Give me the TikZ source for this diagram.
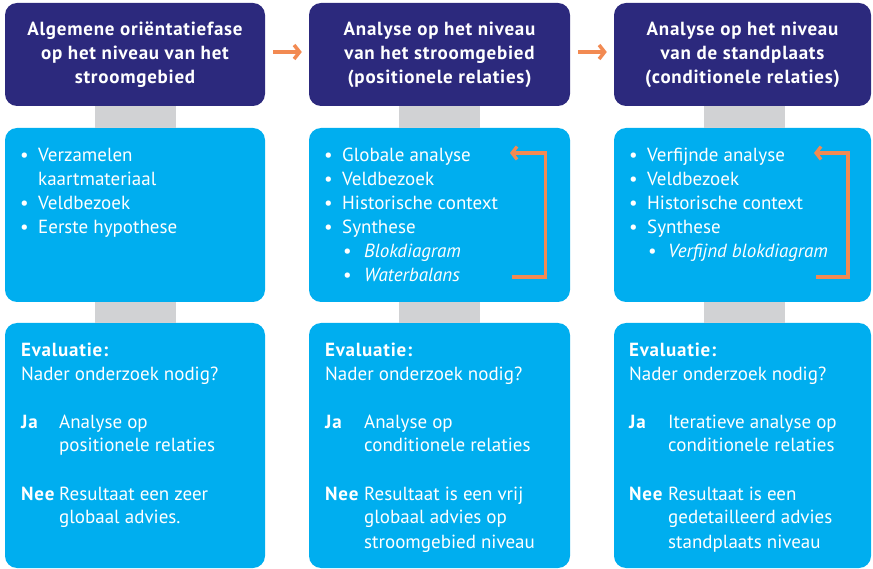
\documentclass[tikz,border=0pt]{standalone}
\usepackage{fontspec}
\setmainfont{PT Sans}[BoldFeatures={LetterSpace=4}]
\usetikzlibrary{arrows.meta}
\definecolor{navy}{RGB}{44,41,125}
\definecolor{cyanbox}{RGB}{0,174,239}
\definecolor{bargrey}{RGB}{209,210,212}
\definecolor{orangearrow}{RGB}{242,138,82}
\tikzset{
  hdr/.style={fill=navy, rounded corners=12pt, inner sep=0pt, text=white, font=\fontsize{19}{24}\selectfont\bfseries},
  cbox/.style={fill=cyanbox, rounded corners=12pt, inner sep=0pt},
  txt/.style={inner sep=0pt, text=white, font=\fontsize{19}{24}\selectfont, anchor=base west},
  bar/.style={draw=bargrey, line width=81pt},
  flow/.style={draw=orangearrow, line width=3.5pt, -{Straight Barb[length=5.5pt,width=14pt]}},
  loop/.style={draw=orangearrow, line width=3.2pt, -{Straight Barb[length=5pt,width=13pt]}}
}
\begin{document}
\begin{tikzpicture}[x=1pt,y=-1pt]
\useasboundingbox (0,0) rectangle (873,569);
% boxes
\node[hdr, minimum width=260pt, minimum height=103pt] (h1) at (135,54.5) {\begin{tabular}{@{}c@{}}Algemene oriëntatiefase\\op het niveau van het\\stroomgebied\end{tabular}};
\node[hdr, minimum width=261pt, minimum height=103pt] (h2) at (439.5,54.5) {\begin{tabular}{@{}c@{}}Analyse op het niveau\\van het stroomgebied\\(positionele relaties)\end{tabular}};
\node[hdr, minimum width=257pt, minimum height=103pt] (h3) at (742.5,54.5) {\begin{tabular}{@{}c@{}}Analyse op het niveau\\van de standplaats\\(conditionele relaties)\end{tabular}};
\node[cbox, minimum width=260pt, minimum height=174pt] (m1) at (135,215) {};
\node[cbox, minimum width=261pt, minimum height=174pt] (m2) at (439.5,215) {};
\node[cbox, minimum width=257pt, minimum height=174pt] (m3) at (742.5,215) {};
\node[cbox, minimum width=260pt, minimum height=245pt] (b1) at (135,445.5) {};
\node[cbox, minimum width=261pt, minimum height=245pt] (b2) at (439.5,445.5) {};
\node[cbox, minimum width=257pt, minimum height=245pt] (b3) at (742.5,445.5) {};
% grey bars
\draw[bar] ([xshift=0.5pt]h1.south) -- ([xshift=0.5pt]m1.north);
\draw[bar] ([xshift=0.5pt]m1.south) -- ([xshift=0.5pt]b1.north);
\draw[bar] (h2.south) -- (m2.north);
\draw[bar] (m2.south) -- (b2.north);
\draw[bar] ([xshift=2pt]h3.south) -- ([xshift=2pt]m3.north);
\draw[bar] ([xshift=2pt]m3.south) -- ([xshift=2pt]b3.north);
% flow arrows
\draw[flow] ([xshift=8pt,yshift=2.5pt]h1.east) -- ([xshift=-7pt,yshift=2.5pt]h2.west);
\draw[flow] ([xshift=8pt,yshift=2.5pt]h2.east) -- ([xshift=-7pt,yshift=2.5pt]h3.west);
% middle texts
\node[txt] (t1) at (20,161.5) {\begin{tabular}[t]{@{}p{18pt}@{}l@{}}•&Verzamelen\\&kaartmateriaal\\•&Veldbezoek\\•&Eerste hypothese\end{tabular}};
\node[txt] (t2) at (324,161.5) {\begin{tabular}[t]{@{}p{18pt}@{}l@{}}•&Globale analyse\\•&Veldbezoek\\•&Historische context\\•&Synthese\\&\hspace{1pt}\makebox[21pt][l]{•}\textit{Blokdiagram}\\&\hspace{1pt}\makebox[21pt][l]{•}\textit{Waterbalans}\end{tabular}};
\node[txt] (t3) at (629,161.5) {\begin{tabular}[t]{@{}p{18pt}@{}l@{}}•&Verfijnde analyse\\•&Veldbezoek\\•&Historische context\\•&Synthese\\&\hspace{1pt}\makebox[20pt][l]{•}\textit{Verfijnd blokdiagram}\end{tabular}};
% loop arrows
\coordinate (l2s) at (512,277);
\coordinate (l2c1) at (545.5,277);
\coordinate (l2c2) at (545.5,153);
\coordinate (l2e) at (510,153);
\draw[loop] (l2s) -- (l2c1) -- (l2c2) -- (l2e);
\coordinate (l3s) at (816,277);
\coordinate (l3c1) at (848,277);
\coordinate (l3c2) at (848,153);
\coordinate (l3e) at (814,153);
\draw[loop] (l3s) -- (l3c1) -- (l3c2) -- (l3e);
% bottom texts
\node[txt] (e1) at (21,356) {\begin{tabular}[t]{@{}p{38pt}@{}l@{}}\multicolumn{2}{@{}l@{}}{\bfseries Evaluatie:}\\\multicolumn{2}{@{}l@{}}{Nader onderzoek nodig?}\\[24pt]\bfseries Ja&Analyse op\\&positionele relaties\\[24pt]\bfseries Nee&Resultaat een zeer\\&globaal advies.\end{tabular}};
\node[txt] (e2) at (325,356) {\begin{tabular}[t]{@{}p{39pt}@{}l@{}}\multicolumn{2}{@{}l@{}}{\bfseries Evaluatie:}\\\multicolumn{2}{@{}l@{}}{Nader onderzoek nodig?}\\[24pt]\bfseries Ja&Analyse op\\&conditionele relaties\\[24pt]\bfseries Nee&Resultaat is een vrij\\&globaal advies op\\&stroomgebied niveau\end{tabular}};
\node[txt] (e3) at (629,356) {\begin{tabular}[t]{@{}p{39pt}@{}l@{}}\multicolumn{2}{@{}l@{}}{\bfseries Evaluatie:}\\\multicolumn{2}{@{}l@{}}{Nader onderzoek nodig?}\\[24pt]\bfseries Ja&Iteratieve analyse op\\&conditionele relaties\\[24pt]\bfseries Nee&Resultaat is een\\&gedetailleerd advies\\&standplaats niveau\end{tabular}};
\end{tikzpicture}
\end{document}
